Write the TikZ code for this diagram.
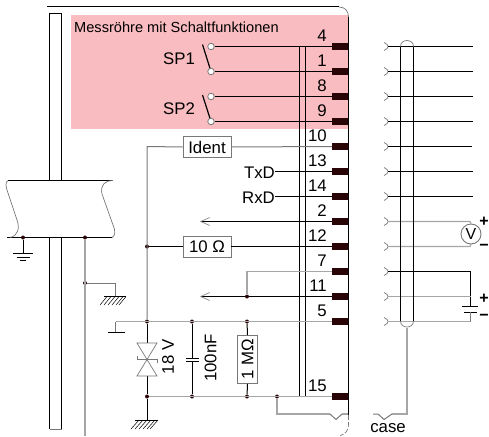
\documentclass[tikz,border=0pt]{standalone}
\usepackage{fontspec}
\setmainfont{Liberation Sans}
\usetikzlibrary{arrows.meta,calc}
\definecolor{pinkbg}{HTML}{F9BCC0}
\definecolor{pindark}{HTML}{2A0508}
\definecolor{lg}{HTML}{A6A6A6}
\definecolor{mg}{HTML}{787878}
\tikzset{
  pinbar/.style={fill=pindark,draw=none,minimum width=17pt,minimum height=7.5pt,inner sep=0pt},
  num/.style={font=\fontsize{16.8}{18}\selectfont,anchor=east,inner sep=0pt,text=black},
  lab/.style={font=\fontsize{16.8}{18}\selectfont,inner sep=0pt,text=black},
  sign/.style={font=\fontsize{16}{17}\selectfont\bfseries,inner sep=0pt,text=black},
  bx/.style={draw=mg,line width=.9pt,fill=white,font=\fontsize{16.8}{18}\selectfont,inner sep=0pt,minimum width=48pt,minimum height=21pt,text=black},
  jn/.style={circle,fill=pindark,draw=none,minimum size=4pt,inner sep=0pt},
  term/.style={circle,fill=white,draw=mg,line width=.8pt,minimum size=6.5pt,inner sep=0pt},
  bw/.style={black,line width=1pt},
  gw/.style={lg,line width=1.3pt},
  mw/.style={mg,line width=1pt},
  thin grey/.style={mg,line width=.7pt},
  head/.style={{Straight Barb[length=9pt,width=8pt,line width=.6pt,color=mg]}-},
}
\begin{document}
\begin{tikzpicture}[x=1pt,y=-1pt]
\useasboundingbox (0,0) rectangle (489,436);
\fill[pinkbg] (71,15) rectangle (348.5,129);
% pins
\foreach \n/\y in {4/46.5,1/71.5,8/96.5,9/121.5,10/146.5,13/171.5,14/196.5,2/221.5,12/246.5,7/271.5,11/296.5,5/321.5,15/396.5}{
  \node[pinbar] (pin\n) at (340.5,\y) {};
  \pgfmathsetmacro{\ly}{\y-10.5}
  \node[num] at (327,\ly) {\n};
  \coordinate (r\n) at (388,\y);
}
% housing
\coordinate (hl) at (47,7);
\coordinate (hc) at (339,7);
\coordinate (hr) at (348.5,17);
\coordinate (hb) at (348.5,415);
\draw[bw] (hl) -- (hc);
\draw[thin grey] (hc) .. controls (345,7) and (348.5,11) .. (hr);
\draw[bw] (hr) -- (hb);
\draw[thin grey,dash pattern=on 5pt off 2pt] (hb) -- (348.5,425) .. controls (348.5,430) and (345,435) .. (340,435.5);
% cores of the double lines
\coordinate (da) at (299.5,46.5);
\coordinate (db) at (305.5,46.5);
\coordinate (dc) at (299.5,396.5);
\coordinate (dd) at (305.5,396.5);
\draw[bw] (da) -- (dc) (db) -- (dd);
% tube left
\draw[bw] (49.5,180) -- (49.5,13.5) -- (61.5,13.5) -- (61.5,180);
\draw[bw] (49.5,237) -- (49.5,429) (61.5,237) -- (61.5,429);
\draw[thin grey] (49.5,429) -- (61.5,429);
% flange
\coordinate (fa) at (8,180.5);
\coordinate (fb) at (113,180.5);
\coordinate (fc) at (7,237.5);
\coordinate (fd) at (112,237.5);
\draw[bw] (fa) -- (fb) (fc) -- (fd);
\draw[thin grey] (fa) .. controls (5,182) and (6,187) .. (7,190) -- (17,220) .. controls (20,228) and (18,236) .. (10,237.5);
\draw[thin grey] (fb) .. controls (105,180.5) and (100,185) .. (102,194) -- (113,225) .. controls (116,232) and (115,236) .. (fd);
% earth 1
\node[jn] (je) at (23,237.5) {};
\coordinate (eg) at (23,253);
\draw[bw,line width=.8pt] (je) -- (eg);
\draw[bw,line width=.8pt] (13,253) -- (33,253) (16.5,257) -- (29.5,257) (20,260.5) -- (26,260.5);
% grey drop
\node[jn] (jd) at (85,237.5) {};
\node[jn] (jf) at (85,283) {};
\coordinate (jg) at (85,436);
\coordinate (eh) at (115.5,296);
\draw[gw] (jd) -- (jg);
\draw[mw] (jf) -| (eh);
\draw[bw,line width=.8pt] (104,296.5) -- (126,296.5);
\foreach \x in {107,111,115,119,123,126}{\draw[black,line width=.5pt] (\x,296.5) -- (\x-7,305);}
% switches
\coordinate (as) at (202.5,44.5);
\coordinate (bs) at (202.5,95);
\coordinate (as2) at (211,71.5);
\coordinate (bs2) at (211,121.5);
\draw[bw,line width=1.2pt] (as) -- (as2) (bs) -- (bs2);
\node[term] (a1) at (211,46.5) {};
\node[term] (a2) at (211,71.5) {};
\node[term] (b1) at (211,96.5) {};
\node[term] (b2) at (211,121.5) {};
\draw[bw] (a1) -- (pin4.west) (a2) -- (pin1.west) (b1) -- (pin8.west) (b2) -- (pin9.west);
\node[lab] at (179,59) {SP1};
\node[lab] at (179,109) {SP2};
\node[font=\fontsize{14.6}{16}\selectfont,anchor=west,inner sep=0pt,text=black] at (74,27) {Messröhre mit Schaltfunktionen};
% ident and resistor
\node[bx] (ident) at (207,147) {Ident};
\node[bx] (ohm) at (207,246.5) {10 Ω};
\node[jn] (j10) at (147,246.5) {};
\node[jn] (j5) at (147,321.5) {};
\coordinate (jtop) at (147,146.5);
\draw[mw] (ident.west) -- (jtop) -- (j5);
\draw[mw] (ident.east) -- (pin10.west);
\draw[bw] (j10) -- (ohm.west);
\draw[bw] (ohm.east) -- (pin12.west);
% TxD RxD
\node[lab,anchor=east] (txd) at (275,173) {TxD};
\node[lab,anchor=east] (rxd) at (275,197.5) {RxD};
\draw[bw] (txd.east |- pin13) -- (pin13.west);
\draw[bw] (rxd.east |- pin14) -- (pin14.west);
% arrows
\coordinate (ar2) at (200,221.5);
\coordinate (ar11) at (200,296.5);
\draw[bw,head] (ar2) -- (pin2.west);
\draw[bw,head] (ar11) -- (pin11.west);
% 7-11
\node[jn] (j7) at (247,296.5) {};
\draw[gw] (pin7.west) -| (j7);
% line 5
\coordinate (sh) at (115.5,321.5);
\coordinate (sh2) at (115.5,332);
\node[jn] (jc1) at (192,321.5) {};
\node[jn] (jr1) at (247,321.5) {};
\draw[gw] (sh) -- (pin5.west);
\draw[mw] (sh) -- (sh2);
\draw[bw] (108,332.5) -- (125,332.5);
% line 15
\node[jn] (j15) at (147,396.5) {};
\node[jn] (jc2) at (192,396.5) {};
\node[jn] (jr2) at (247,396.5) {};
\node[jn] (jn15) at (277,396.5) {};
\draw[gw,line width=1pt] (j15) -- (pin15.west);
% zener
\coordinate (zt) at (147,343);
\coordinate (zm) at (147,359.5);
\coordinate (zb) at (147,376);
\draw[bw,line width=.9pt] (j5) -- (zt) (zb) -- (j15);
\draw[thin grey] (137,343) -- (157,343) -- (137,376) -- (157,376) -- cycle;
\draw[thin grey] (137,356) -- (137,359.5) -- (157,359.5) -- (157,363);
\node[lab,rotate=90] at (168,357) {18 V};
% ground 2
\coordinate (eg2) at (147,420);
\draw[bw] (j15) -- (eg2);
\draw[bw,line width=.8pt] (135,420) -- (158,420);
\foreach \x in {139,143,147,151,155,158}{\draw[black,line width=.5pt] (\x,420) -- (\x-8,429);}
% capacitor
\coordinate (c1) at (192,358);
\coordinate (c2) at (192,361.5);
\draw[bw] (jc1) -- (c1) (c2) -- (jc2);
\draw[bw,line width=.8pt] (186,358) -- (199,358) (186,361.5) -- (199,361.5);
\node[lab,rotate=90] at (210.5,358) {100nF};
% 1 MOhm
\node[bx,minimum width=48pt,minimum height=20pt,rotate=90] (rm) at (247.5,359.5) {1 MΩ};
\draw[bw] (jr1) -- (rm.east) (rm.west) -- (jr2);
% notch wire left
\coordinate (n1) at (277,414);
\draw[gw] (jn15) -- (n1) -- (330,414);
\draw[mw] (330,414) -- (336,419.5) -- (342,414);
\draw[gw] (342,414) -- (348,414);
% right side connector
\foreach \n in {4,1,8,9,10,13,14,2,12,7,11,5}{
  \draw[thin grey] ($(r\n)+(-4,-4)$) .. controls ($(r\n)+(-1,-3)$) and ($(r\n)+(0,-1)$) .. (r\n) .. controls ($(r\n)+(0,1)$) and ($(r\n)+(-1,3)$) .. ($(r\n)+(-4,4)$);
}
\coordinate (e4) at (473,46.5);
\coordinate (e1) at (473,71.5);
\coordinate (e8) at (473,96.5);
\coordinate (e9) at (473,121.5);
\coordinate (e10) at (472,146.5);
\coordinate (e13) at (473,171.5);
\coordinate (e14) at (473,196.5);
\foreach \n in {4,1,8,9,10,13,14}{\draw[bw] (r\n) -- (e\n);}
% voltmeter
\node[circle,draw=mg,line width=.9pt,fill=white,minimum size=20pt,inner sep=0pt,font=\fontsize{16}{17}\selectfont,text=black] (vm) at (471,234) {V};
\draw[gw] (r2) -- (470,221.5) -- (vm.north);
\draw[gw] (r12) -- (470,246.5) -- (vm.south);
\node[sign] at (484,222) {+};
\node[sign] at (484,247) {−};
% battery
\coordinate (p1) at (470.5,306);
\coordinate (p2) at (470.5,312);
\draw[bw,line width=.9pt] (r7) -- (470.5,271.5) -- (p1);
\draw[bw,line width=.9pt] (462,306) -- (478,306) (464,312) -- (477,312);
\draw[gw] (r11) -- (470.5,296.5);
\draw[gw] (r5) -- (470.5,321.5);
\draw[mw] (p2) -- (470.5,321.5);
\node[sign] at (484,298.5) {+};
\node[sign] at (484,317.5) {−};
% right tube
\draw[bw] (400.5,46.5) -- (400.5,321) (413.5,46.5) -- (413.5,321);
\draw[thin grey] (400.5,46.5) .. controls (400.5,38.5) and (413.5,38.5) .. (413.5,46.5);
\draw[thin grey] (400.5,321) .. controls (400.5,329) and (413.5,329) .. (413.5,321);
\coordinate (tb) at (407,328);
\draw[gw] (tb) -- (407,414) -- (392,414);
\draw[mw] (392,414) -- (384,419.5) -- (378,414) -- (373,414);
\node[font=\fontsize{16.8}{18}\selectfont,inner sep=0pt,text=black] at (388,428.5) {case};
\end{tikzpicture}
\end{document}
